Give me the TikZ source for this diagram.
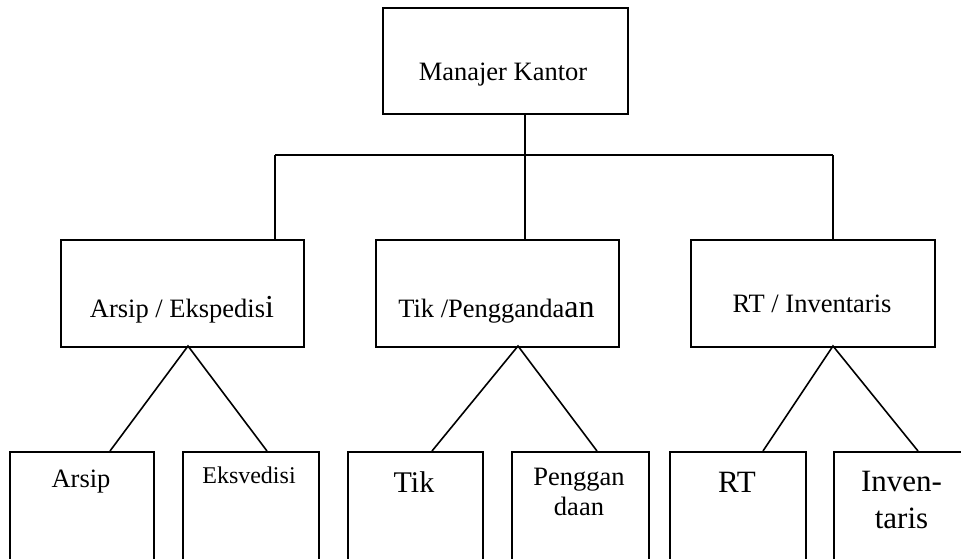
\documentclass[tikz,border=0pt]{standalone}
\usepackage{fontspec}
\setmainfont{Liberation Serif}
\usetikzlibrary{calc}
\newcommand{\fs}[2]{\fontsize{#1}{#2}\selectfont}
\begin{document}
\begin{tikzpicture}[x=1pt,y=-1pt,
  unitbox/.style={draw,line width=2pt,inner sep=0pt,anchor=north west},
  wire/.style={line width=2pt},
  lbl/.style={anchor=base,inner sep=0pt,align=center}]
\useasboundingbox (0,0) rectangle (961,558);
\clip (0,0) rectangle (961,558);

% head office
\node[unitbox,minimum width=245pt,minimum height=106pt] (top) at (382,7) {};
\node[lbl,font=\fs{26.5}{30}] (ttop) at (503,80) {Manajer Kantor};

% second level
\node[unitbox,minimum width=243pt,minimum height=107pt] (m1) at (60,239) {};
\node[unitbox,minimum width=243pt,minimum height=107pt] (m2) at (375,239) {};
\node[unitbox,minimum width=244pt,minimum height=107pt] (m3) at (690,239) {};
\node[lbl,font=\fs{26.5}{30}] (tm1) at (182,317) {Arsip / Ekspedis{\fs{32}{36}i}};
\node[lbl,font=\fs{26.5}{30}] (tm2) at (496.5,317) {Tik /Pengganda{\fs{32}{36}an}};
\node[lbl,font=\fs{26.5}{30}] (tm3) at (812,312) {RT / Inventaris};

% third level (boxes run past the lower and right edges)
\node[unitbox,minimum width=144pt,minimum height=160pt] (b1) at (9,451) {};
\node[unitbox,minimum width=136pt,minimum height=160pt] (b2) at (182,451) {};
\node[unitbox,minimum width=135pt,minimum height=160pt] (b3) at (347,451) {};
\node[unitbox,minimum width=137pt,minimum height=160pt] (b4) at (511,451) {};
\node[unitbox,minimum width=136pt,minimum height=160pt] (b5) at (669,451) {};
\node[unitbox,minimum width=140pt,minimum height=160pt] (b6) at (833,451) {};
\node[lbl,font=\fs{26.5}{30}] (tb1) at (81,487) {Arsip};
\node[lbl,font=\fs{24}{28}] (tb2) at (249,483) {Eksvedisi};
\node[lbl,font=\fs{30}{34}] (tb3) at (414,492) {Tik};
\node[lbl,font=\fs{26.5}{30}] (tb4) at (579,515) {Penggan\\daan};
\node[lbl,font=\fs{31}{37}] (tb5) at (737,492) {RT};
\node[lbl,font=\fs{31}{37}] (tb6) at (901.5,528) {Inven-\\taris};

% bus between first and second level
\coordinate (trunk) at (525,155);
\coordinate (busL) at (275,155);
\coordinate (busR) at (833,155);
\draw[wire,line width=2.6pt] (trunk |- top.south) -- (trunk |- m2.north);
\draw[wire] (busL) -- (busR);
\draw[wire] (busL) -- (busL |- m1.north);
\draw[wire] (busR) -- (busR |- m3.north);

% branches to the third level
\coordinate (a1) at (188,346);
\coordinate (a2) at (518,346);
\coordinate (a3) at (833,346);
\draw[wire,line width=1.6pt] ([xshift=101pt]b1.north west) -- (a1) -- ([xshift=85pt]b2.north west);
\draw[wire,line width=1.6pt] ([xshift=85pt]b3.north west) -- (a2) -- ([xshift=86pt]b4.north west);
\draw[wire,line width=1.6pt] ([xshift=94pt]b5.north west) -- (a3) -- ([xshift=85pt]b6.north west);
\end{tikzpicture}
\end{document}
